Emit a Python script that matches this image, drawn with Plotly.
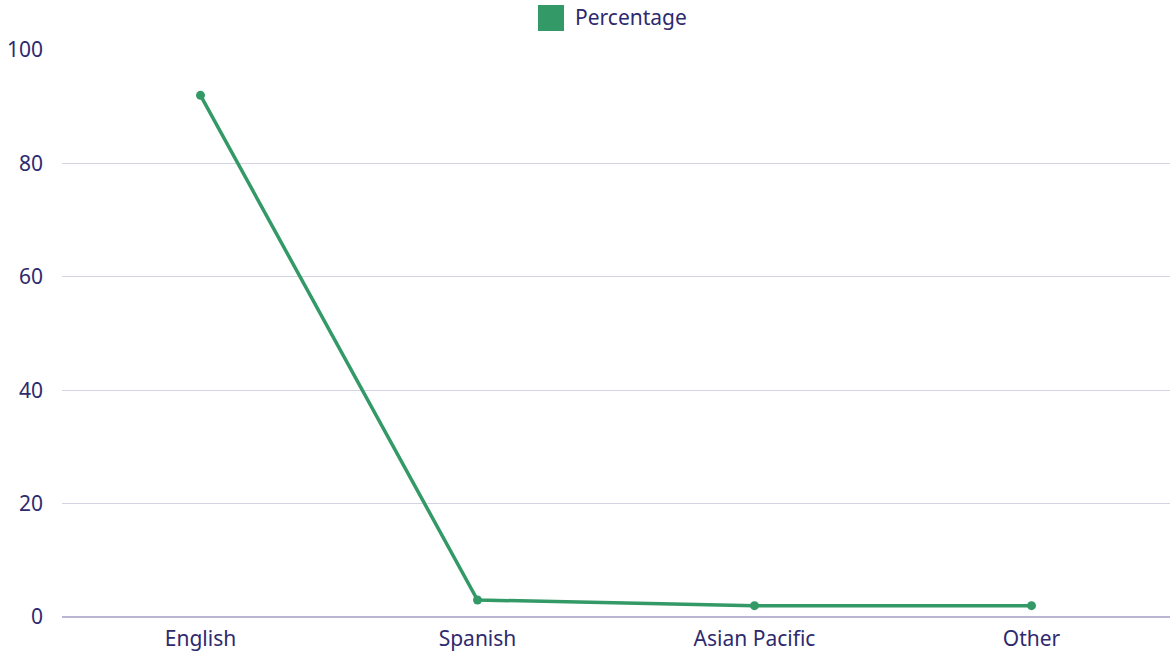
import plotly.graph_objects as go

categories = ["English", "Spanish", "Asian Pacific", "Other"]
percentage = [92, 3, 2, 2]
series_name = "Percentage"

GREEN = "#339966"
TEXT = "#2e2a6e"
GRID = "#d4d2e3"

fig = go.Figure()
fig.add_trace(go.Scatter(
    x=categories, y=percentage, name=series_name, mode="lines+markers",
    line=dict(color=GREEN, width=3.5), marker=dict(color=GREEN, size=9),
    showlegend=False,
))

W, H = 1172, 654
L, R, T, B = 62, 2, 50, 37
PW, PH = W - L - R, H - T - B


def px_x(x):
    return (x - L) / PW


def px_y(y):
    return 1 - (y - T) / PH


fig.update_layout(
    width=W, height=H,
    margin=dict(l=L, r=R, t=T, b=B),
    paper_bgcolor="white", plot_bgcolor="white",
    font=dict(family="Noto Sans, sans-serif", size=21, color=TEXT),
    xaxis=dict(type="category", range=[-0.5, 3.5], showgrid=False, showline=False,
               zeroline=False, ticks="", ticklabelstandoff=7,
               tickfont=dict(size=21, color=TEXT)),
    yaxis=dict(range=[0, 100], tickvals=[0, 20, 40, 60, 80, 100], showgrid=True,
               gridcolor=GRID, gridwidth=1, zeroline=True, zerolinecolor="#b9b6d3",
               zerolinewidth=1.5, showline=False, ticks="", ticklabelstandoff=18,
               tickfont=dict(size=21, color=TEXT)),
    shapes=[dict(type="rect", xref="paper", yref="paper",
                 x0=px_x(538), x1=px_x(564), y0=px_y(31), y1=px_y(5),
                 fillcolor=GREEN, line=dict(width=0))],
    annotations=[dict(text=series_name, xref="paper", yref="paper",
                      x=px_x(573), y=px_y(17),
                      xanchor="left", yanchor="middle", showarrow=False,
                      font=dict(size=21, color=TEXT))],
)

fig.write_html(
    "out.html",
    config={"displayModeBar": False},
    post_script="document.body.style.margin='0';document.body.style.padding='0';",
)
